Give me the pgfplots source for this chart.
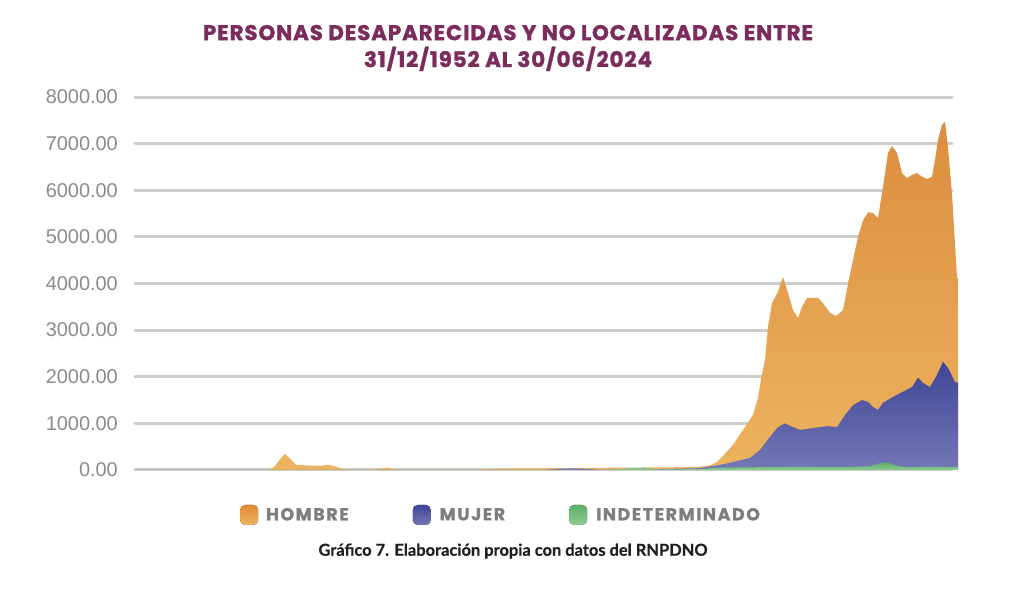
\documentclass[border=0pt]{standalone}
\usepackage{pgfplots}
\pgfplotsset{compat=1.18}
\usepackage{fontspec}
\setmainfont{Liberation Sans}
\newfontfamily\tickfont{Liberation Sans}
\newfontfamily\titlefont[LetterSpace=4, FakeBold=1.2]{Poppins}
\newfontfamily\legfont[LetterSpace=9, FakeBold=1]{Poppins}
\newfontfamily\capfont[FakeBold=0.6]{Lato}
\definecolor{titlecol}{HTML}{7B2C5C}
\definecolor{gridcol}{HTML}{CDCDCD}
\definecolor{tickcol}{HTML}{8A8A8A}
\definecolor{legcol}{HTML}{7E7E7E}
\definecolor{oTop}{HTML}{DB8D3E}
\definecolor{oBot}{HTML}{EDB35F}
\definecolor{pTop}{HTML}{3F4595}
\definecolor{pBot}{HTML}{7478B6}
\definecolor{gTop}{HTML}{5AAE6A}
\definecolor{gBot}{HTML}{8FCB91}

\pgfplotstableread{
x y
135 0
268 0
274 60
280 230
285 340
290 250
296 110
310 95
322 95
328 110
335 80
342 20
350 5
375 10
382 30
387 55
392 20
400 10
480 10
500 30
560 40
620 50
680 60
700 70
710 100
717 170
725 350
733 540
743 860
753 1180
758 1550
761 1950
765 2360
768 3070
772 3580
778 3820
783 4140
788 3800
793 3430
798 3260
802 3500
807 3690
818 3690
823 3580
830 3370
836 3300
843 3430
848 4000
853 4500
858 5000
863 5350
868 5530
873 5510
878 5400
883 6070
888 6800
892 6950
897 6800
902 6370
907 6260
912 6330
917 6370
922 6290
927 6240
932 6290
935 6650
938 7080
942 7400
945 7470
948 6910
952 5920
955 4850
957 4120
958 4120
}\hombre

\pgfplotstableread{
x y
135 0
540 0
550 10
560 30
575 35
590 20
600 5
620 10
660 20
700 40
720 110
733 170
750 260
760 430
770 710
778 920
785 1000
793 920
800 860
813 900
827 940
837 920
845 1180
853 1390
862 1500
868 1460
873 1350
878 1290
883 1440
893 1570
903 1680
912 1780
918 1980
923 1870
930 1780
937 2040
943 2320
948 2190
955 1890
958 1870
}\mujer

\pgfplotstableread{
x y
135 0
600 0
610 5
630 40
645 50
660 10
700 20
720 50
760 60
800 70
840 60
870 80
880 150
888 160
895 100
905 60
930 70
958 60
}\indet

\begin{document}
\begin{tikzpicture}
\path[use as bounding box] (0,0) rectangle (1024bp,594bp);
\begin{axis}[
  at={(135bp,124bp)}, anchor=south west,
  scale only axis,
  width=817bp, height=373bp,
  xmin=135, xmax=952,
  ymin=0, ymax=8000,
  clip=false,
  axis line style={draw=none},
  tick style={draw=none},
  xtick=\empty,
  ytick={0,1000,...,8000},
  scaled y ticks=false,
  ymajorgrids,
  grid style={gridcol, line width=3bp, line cap=round},
  yticklabel style={font=\tickfont\fontsize{20}{20}\selectfont, text=tickcol,
    inner sep=0pt, xshift=-17bp,
    /pgf/number format/.cd, fixed, fixed zerofill, precision=2, 1000 sep={}, assume math mode=true},
  legend columns=3,
  legend style={at={(rel axis cs:0.1285,-0.1206)}, anchor=west, draw=none, fill=none,
    inner sep=0pt, font=\legfont\bfseries\fontsize{17.5}{17.5}\selectfont, text=legcol,
    /tikz/every even column/.append style={column sep=62bp}},
  legend cell align=left,
]
\addplot[draw=none, top color=oTop, bottom color=oBot,
  legend image code/.code={\fill[rounded corners=5bp, top color=oTop!80!orange, bottom color=oBot] (0bp,-10bp) rectangle (18bp,10bp); \path (24bp,0);}]
  table[x=x,y=y]{\hombre} \closedcycle;
\addlegendentry{HOMBRE}
\addplot[draw=none, top color=pTop, bottom color=pBot,
  legend image code/.code={\fill[rounded corners=5bp, top color=pTop, bottom color=pBot] (0bp,-10bp) rectangle (18bp,10bp); \path (25bp,0);}]
  table[x=x,y=y]{\mujer} \closedcycle;
\addlegendentry{MUJER}
\addplot[draw=none, top color=gTop, bottom color=gBot,
  legend image code/.code={\fill[rounded corners=5bp, top color=gTop, bottom color=gBot] (0bp,-10bp) rectangle (18bp,10bp); \path (25bp,0);}]
  table[x=x,y=y]{\indet} \closedcycle;
\addlegendentry{INDETERMINADO}
\end{axis}
\node[font=\titlefont\bfseries\fontsize{21.5}{27}\selectfont, text=titlecol, align=center, anchor=center]
  at (508bp,546bp) {PERSONAS DESAPARECIDAS Y NO LOCALIZADAS ENTRE\\31/12/1952 AL 30/06/2024};
\node[font=\capfont\bfseries\fontsize{16.5}{18}\selectfont, text=black!88, anchor=center]
  at (513bp,43bp) {Gráfico 7. Elaboración propia con datos del RNPDNO};
\end{tikzpicture}
\end{document}
